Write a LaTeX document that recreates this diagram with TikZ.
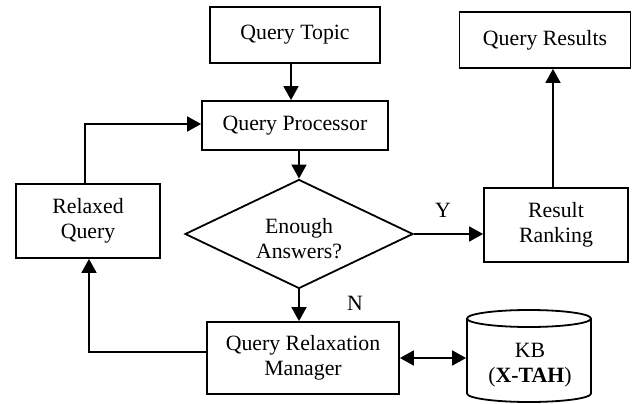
\documentclass[tikz,border=0pt]{standalone}
\usepackage{fontspec}
\setmainfont{Liberation Serif}
\usetikzlibrary{arrows.meta,shapes.geometric,calc}
\begin{document}
\begin{tikzpicture}[x=1pt,y=-1pt,
  line width=1.8pt,
  box/.style={draw,rectangle,inner sep=0pt,align=center,font=\fontsize{21.8}{24.5}\selectfont},
  plain/.style={inner sep=0pt,align=center,font=\fontsize{21.8}{24.5}\selectfont},
  arr/.style={-{Triangle[length=14pt,width=15pt]}},
  darr/.style={{Triangle[length=14pt,width=15pt]}-{Triangle[length=14pt,width=15pt]}}
]
\useasboundingbox (0,0) rectangle (632,404);
\node[box,minimum width=170pt,minimum height=56pt] (qt) at (295,35) {Query Topic};
\node[box,minimum width=186pt,minimum height=49pt] (qp) at (295,125.5) {Query Processor};
\node[box,minimum width=171pt,minimum height=56pt] (qr) at (545,40) {Query Results};
\node[box,minimum width=144pt,minimum height=74pt] (rr) at (556,225) {Result\\Ranking};
\node[box,minimum width=144pt,minimum height=74pt] (rq) at (88,221) {Relaxed\\Query};
\node[draw,diamond,inner sep=0pt,minimum width=228pt,minimum height=109pt] (dia) at (299,234) {};
\node[plain] (diat) at (299,238.5) {Enough\\Answers?};
\node[box,minimum width=192pt,minimum height=72pt] (qrm) at (303,358) {Query Relaxation\\Manager};
% cylinder
\draw (529,318.5) ellipse [x radius=62, y radius=8.5];
\draw (467,318.5) -- (467,393.5) arc [start angle=180, end angle=0, x radius=62, y radius=8.5] -- (591,318.5);
\node[plain,minimum width=124pt,minimum height=92pt] (kb) at (529,356) {};
\node[plain] (kbt) at (530,365) {KB\\({\bfseries X-TAH})};
\node[plain] (ylab) at (443,210) {Y};
\node[plain] (nlab) at (355,303) {N};
% connectors
\draw[arr] ([xshift=-4pt]qt.south) -- ([xshift=-4pt]qp.north);
\draw[arr] ([xshift=4pt]qp.south) -- (dia.north);
\draw[arr] (dia.east) -- (dia.east -| rr.west);
\draw[arr] ([xshift=-3pt]rr.north) -- ([xshift=-3pt]rr.north |- qr.south);
\draw[arr] (dia.south) -- (dia.south |- qrm.north);
\draw[arr] ([yshift=6pt]qrm.west) -| ([xshift=1pt]rq.south);
\draw[arr] ([xshift=-3pt]rq.north) |- ([yshift=1.5pt]qp.west);
\draw[darr] (qrm.east) -- (qrm.east -| kb.west);
\end{tikzpicture}
\end{document}
